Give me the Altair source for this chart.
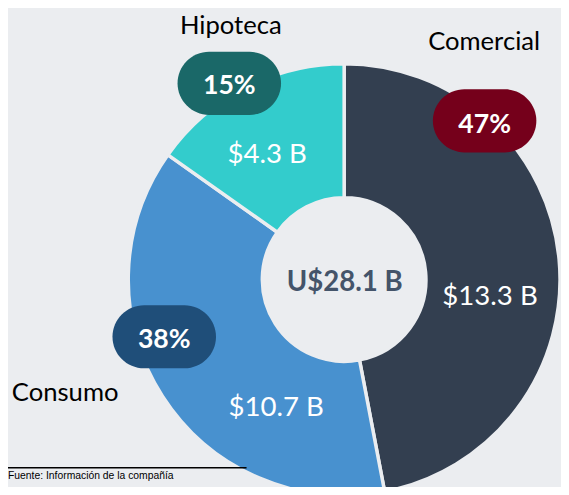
import altair as alt
import pandas as pd

# ---- data ----
categories = ["Comercial", "Consumo", "Hipoteca"]
values = [13.3, 10.7, 4.3]
shares = ["47%", "38%", "15%"]
value_labels = ["$13.3 B", "$10.7 B", "$4.3 B"]
total_label = "U$28.1 B"
source_note = "Fuente: Información de la compañía"

# ---- styling ----
slice_colors = ["#333f50", "#4891cf", "#33cccc"]
badge_colors = ["#75001b", "#1f4e79", "#1a6868"]
bg = "#ebedf0"

# label anchor positions (reference pixel coordinates, text baselines)
value_label_x = [497, 280, 271]
value_label_y = [306, 418, 162]
badge_x = [491.5, 166.5, 232.5]
badge_y = [119, 338, 81]
badge_text_y = [131, 349, 92]
name_x = [491, 66, 234]
name_y = [47, 403, 31]

W, H = 561, 479
xs = alt.Scale(domain=[8, 8 + W], range=[0, W])
ys = alt.Scale(domain=[8, 8 + H], range=[0, H])

df = pd.DataFrame({
    "category": categories,
    "value": values,
    "order": list(range(len(categories))),
    "share": shares,
    "vlabel": value_labels,
    "vx": value_label_x,
    "vy": value_label_y,
    "bx": badge_x,
    "by": badge_y,
    "bty": badge_text_y,
    "nx": name_x,
    "ny": name_y,
})
df["bx1"] = df["bx"] - 52.5
df["bx2"] = df["bx"] + 52.5
df["by1"] = df["by"] - 32
df["by2"] = df["by"] + 32

base = alt.Chart(df)

arcs = base.mark_arc(outerRadius=219, innerRadius=83, stroke=bg, strokeWidth=3.5).encode(
    theta=alt.Theta("value:Q", stack=True),
    order=alt.Order("order:Q"),
    color=alt.Color("category:N", scale=alt.Scale(domain=categories, range=slice_colors), legend=None),
    x=alt.value(349 - 8),
    y=alt.value(280 - 8),
)

vtext = base.mark_text(font="Lato", fontSize=28, color="white", baseline="alphabetic", align="center").encode(
    x=alt.X("vx:Q", scale=xs, axis=None),
    y=alt.Y("vy:Q", scale=ys, axis=None),
    text="vlabel:N",
)

badges = base.mark_rect(cornerRadius=32).encode(
    x=alt.X("bx1:Q", scale=xs, axis=None),
    x2="bx2:Q",
    y=alt.Y("by1:Q", scale=ys, axis=None),
    y2="by2:Q",
    color=alt.Color("category:N", scale=alt.Scale(domain=categories, range=badge_colors), legend=None),
)

btext = base.mark_text(font="Lato", fontSize=27, fontWeight="bold", color="white", baseline="alphabetic", align="center").encode(
    x=alt.X("bx:Q", scale=xs, axis=None),
    y=alt.Y("bty:Q", scale=ys, axis=None),
    text="share:N",
)

ntext = base.mark_text(font="Lato", fontSize=26, color="black", baseline="alphabetic", align="center").encode(
    x=alt.X("nx:Q", scale=xs, axis=None),
    y=alt.Y("ny:Q", scale=ys, axis=None),
    text="category:N",
)

center_df = pd.DataFrame({"t": [total_label], "x": [349.5], "y": [292]})
ctext = alt.Chart(center_df).mark_text(font="Lato", fontSize=28, fontWeight="bold", color="#44546a",
                                        baseline="alphabetic", align="center").encode(
    x=alt.X("x:Q", scale=xs, axis=None),
    y=alt.Y("y:Q", scale=ys, axis=None),
    text="t:N",
)

foot_df = pd.DataFrame({"x1": [8], "x2": [250], "y": [471], "t": [source_note], "tx": [8], "ty": [474]})
rule = alt.Chart(foot_df).mark_rule(color="black", strokeWidth=1.5).encode(
    x=alt.X("x1:Q", scale=xs, axis=None),
    x2="x2:Q",
    y=alt.Y("y:Q", scale=ys, axis=None),
)
ftext = alt.Chart(foot_df).mark_text(font="Liberation Sans", fontSize=10.5, color="black",
                                      baseline="top", align="left").encode(
    x=alt.X("tx:Q", scale=xs, axis=None),
    y=alt.Y("ty:Q", scale=ys, axis=None),
    text="t:N",
)

chart = alt.layer(arcs, vtext, badges, btext, ntext, ctext, rule, ftext).resolve_scale(
    color="independent"
).properties(
    width=W, height=H, padding=0, autosize=alt.AutoSizeParams(type="none"), background=bg
).configure_view(strokeWidth=0)

chart.save("out.html", embed_options={"renderer": "svg", "actions": False})
